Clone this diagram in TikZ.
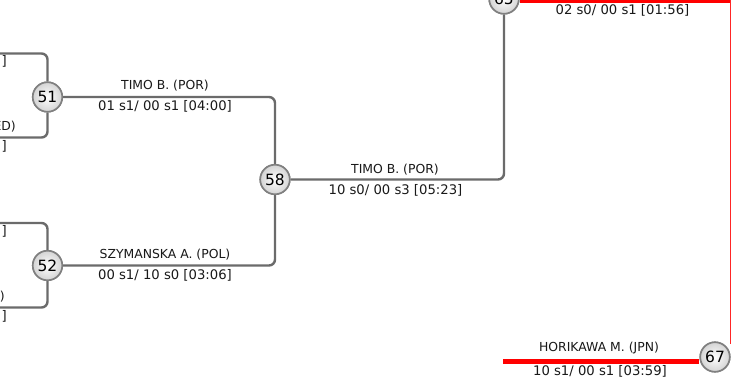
\documentclass[tikz,border=0pt]{standalone}
\usepackage{fontspec}
\setmainfont{DejaVu Sans}
\begin{document}
\begin{tikzpicture}[x=1pt,y=-1pt,
  conn/.style={draw=black!58,line width=2.4pt,rounded corners=6pt},
  win/.style={draw=red,line width=5pt},
  thinwin/.style={draw=red!85,line width=1.4pt},
  match/.style={circle,draw=black!50,line width=1.6pt,minimum size=29.5pt,inner sep=0pt,
    inner color=white,outer color=black!17,font=\fontsize{15.5}{17}\selectfont},
  nm/.style={inner sep=0pt,font=\fontsize{12.4}{14}\selectfont,text=black!90},
  sc/.style={inner sep=0pt,font=\fontsize{13.2}{15}\selectfont,text=black!90}]
\useasboundingbox (0,0) rectangle (732,383);
\fill[white] (0,0) rectangle (732,383);
% match nodes
\node[match] (n51) at (47.5,97) {51};
\node[match] (n52) at (47.5,265.5) {52};
\node[match] (n58) at (275,179.5) {58};
\node[match] (n65) at (504,-1) {65};
\node[match] (n67) at (715,357) {67};
% free ends
\coordinate (a1) at (0,53.5);
\coordinate (a2) at (0,137.5);
\coordinate (b1) at (0,223);
\coordinate (b2) at (0,307.5);
\coordinate (rt) at (730.5,0);
\coordinate (rb) at (730.5,344);
\coordinate (h67) at (503,361);
% connectors
\draw[conn] (a1) -| (n51);
\draw[conn] (a2) -| (n51);
\draw[conn] (b1) -| (n52);
\draw[conn] (b2) -| (n52);
\draw[conn] (n51) -| (n58);
\draw[conn] (n52) -| (n58);
\draw[conn] (n58) -| (n65);
\draw[win] (n65.east |- rt) -- (rt);
\draw[thinwin] (rt) -- (rb);
\draw[win] (h67) -- (h67 -| n67.west);
% redraw nodes on top
\node[match] at (n51) {51};
\node[match] at (n52) {52};
\node[match] at (n58) {58};
\node[match] at (n65) {65};
\node[match] at (n67) {67};
% labels
\node[nm] (l1) at (165,86) {TIMO B. (POR)};
\node[sc] (s1) at (165,106) {01 s1/ 00 s1 [04:00]};
\node[nm] (l2) at (165,255) {SZYMANSKA A. (POL)};
\node[sc] (s2) at (165,275) {00 s1/ 10 s0 [03:06]};
\node[nm] (l3) at (395,170) {TIMO B. (POR)};
\node[sc] (s3) at (395.5,190) {10 s0/ 00 s3 [05:23]};
\node[sc] (s4) at (622.5,10) {02 s0/ 00 s1 [01:56]};
\node[nm] (l5) at (599,348) {HORIKAWA M. (JPN)};
\node[sc] (s5) at (600,371) {10 s1/ 00 s1 [03:59]};
% cut-off fragments at left edge
\node[sc,anchor=east] (f1) at (7,61) {]};
\node[nm,anchor=east] (f2) at (16,127) {ED)};
\node[sc,anchor=east] (f3) at (7,146) {]};
\node[sc,anchor=east] (f4) at (7,231) {]};
\node[nm,anchor=east] (f5) at (5,297) {)};
\node[sc,anchor=east] (f6) at (7,316) {]};
\end{tikzpicture}
\end{document}
